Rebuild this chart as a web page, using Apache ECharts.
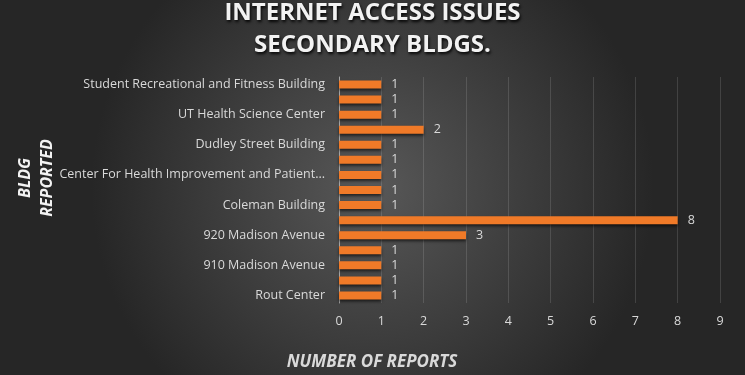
<!DOCTYPE html>
<html>

<head>
	<meta charset="UTF-8">
	<title></title>
	<style>
		html, body { margin: 0; padding: 0; }
		#chart { width: 745px; height: 375px; }
	</style>
	<script src="https://cdn.jsdelivr.net/npm/echarts@6/dist/echarts.min.js"></script>
</head>

<body>
	<div id="chart"></div>
	<script>
		// top to bottom, as in the picture (every other label is hidden by the axis)
		var buildings = [
			'Student Recreational and Fitness Building',
			'Nash Annex',
			'UT Health Science Center',
			'Lamar Alexander Building',
			'Dudley Street Building',
			'Hyman Building',
			'Center For Health Improvement and Patient Simulation',
			'Crowe Building',
			'Coleman Building',
			'General Education Building',
			'920 Madison Avenue',
			'Madison Plaza',
			'910 Madison Avenue',
			'Pharmacy Building',
			'Rout Center'
		];
		var reports = [1, 1, 1, 2, 1, 1, 1, 1, 1, 8, 3, 1, 1, 1, 1];
		var xTicks = [0, 9, 1]; // min, max, interval

		var txt = '#d9d9d9';
		var chart = echarts.init(document.getElementById('chart'));
		chart.setOption({
			backgroundColor: {
				type: 'radial', x: 0.5, y: 0.5, r: 0.75,
				colorStops: [
					{ offset: 0, color: '#585858' },
					{ offset: 1, color: '#262626' }
				]
			},
			textStyle: { fontFamily: 'Open Sans' },
			title: {
				text: 'INTERNET ACCESS ISSUES\nSECONDARY BLDGS.',
				left: 'center', top: -8,
				textStyle: {
					color: '#f2f2f2', fontSize: 24, fontWeight: 'bold', lineHeight: 32,
					fontFamily: 'Open Sans',
					textShadowColor: 'rgba(0,0,0,0.9)', textShadowBlur: 3, textShadowOffsetX: 1, textShadowOffsetY: 2
				}
			},
			graphic: [
				{
					type: 'text', x: 372, y: 362,
					style: {
						text: 'NUMBER OF REPORTS', fill: txt, font: 'italic bold 17px "Open Sans"',
						align: 'center', verticalAlign: 'middle'
					}
				},
				{
					type: 'text', x: 25, y: 178, rotation: Math.PI / 2,
					style: {
						text: 'BLDG', fill: '#f2f2f2', font: 'italic bold 16px "Open Sans"',
						align: 'center', verticalAlign: 'middle'
					}
				},
				{
					type: 'text', x: 47, y: 178, rotation: Math.PI / 2,
					style: {
						text: 'REPORTED', fill: '#f2f2f2', font: 'italic bold 16px "Open Sans"',
						align: 'center', verticalAlign: 'middle'
					}
				}
			],
			grid: { left: 339, right: 25, top: 77, bottom: 72 },
			xAxis: {
				type: 'value',
				min: xTicks[0], max: xTicks[1], interval: xTicks[2],
				axisLine: { show: false },
				axisTick: { show: false },
				axisLabel: { color: txt, fontSize: 12.5, margin: 12 },
				splitLine: { lineStyle: { color: 'rgba(255,255,255,0.13)' } }
			},
			yAxis: {
				type: 'category',
				inverse: true,
				data: buildings,
				axisLine: { lineStyle: { color: '#a6a6a6' } },
				axisTick: { show: false },
				axisLabel: {
					color: txt, fontSize: 12.5, interval: 1, margin: 14,
					width: 268, overflow: 'truncate', ellipsis: '...'
				}
			},
			series: [{
				type: 'bar',
				data: reports,
				barWidth: 8,
				itemStyle: {
					color: '#f07a28',
					shadowColor: 'rgba(0,0,0,0.6)', shadowBlur: 3, shadowOffsetY: 2
				},
				label: { show: true, position: 'right', distance: 10, color: txt, fontSize: 12.5 }
			}]
		});
	</script>
</body>

</html>
